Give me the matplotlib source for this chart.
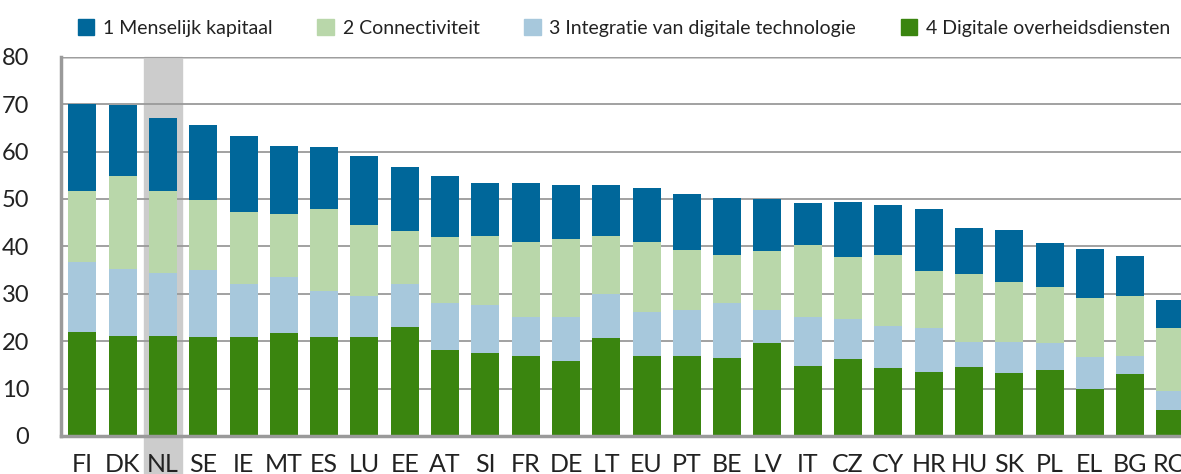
import numpy as np
import matplotlib.pyplot as plt
from matplotlib.patches import Patch

plt.rcParams['font.family'] = ['Lato', 'DejaVu Sans']

landen = ['FI', 'DK', 'NL', 'SE', 'IE', 'MT', 'ES', 'LU', 'EE', 'AT', 'SI', 'FR', 'DE', 'LT',
          'EU', 'PT', 'BE', 'LV', 'IT', 'CZ', 'CY', 'HR', 'HU', 'SK', 'PL', 'EL', 'BG', 'RO']

# scores per dimensie (gestapeld, van onder naar boven: 4, 3, 2, 1)
overheid = [21.9, 21.1, 21.1, 20.9, 20.9, 21.7, 20.9, 20.9, 23.0, 18.1, 17.5, 16.9, 15.8, 20.7,
            16.9, 16.9, 16.5, 19.6, 14.8, 16.2, 14.3, 13.5, 14.6, 13.3, 13.9, 9.9, 13.1, 5.5]
integratie = [14.9, 14.1, 13.3, 14.2, 11.1, 11.8, 9.7, 8.6, 9.0, 9.9, 10.1, 8.2, 9.3, 9.3,
              9.3, 9.6, 11.6, 6.9, 10.3, 8.5, 9.0, 9.3, 5.3, 6.6, 5.7, 6.8, 3.7, 4.0]
connectiviteit = [14.9, 19.6, 17.3, 14.7, 15.2, 13.3, 17.3, 15.0, 11.3, 14.0, 14.6, 15.8, 16.5, 12.2,
                  14.7, 12.7, 10.1, 12.5, 15.2, 13.1, 14.9, 12.0, 14.3, 12.6, 11.8, 12.5, 12.8, 13.3]
kapitaal = [18.3, 15.0, 15.4, 15.8, 16.1, 14.4, 13.1, 14.6, 13.4, 12.8, 11.2, 12.5, 11.3, 10.7,
            11.4, 11.8, 11.9, 11.0, 8.8, 11.6, 10.5, 13.1, 9.7, 10.9, 9.3, 10.2, 8.4, 5.9]

reeksen = ['1 Menselijk kapitaal', '2 Connectiviteit',
           '3 Integratie van digitale technologie', '4 Digitale overheidsdiensten']
kleuren = ['#00679a', '#b9d7aa', '#a7c8dc', '#3a850f']

fig = plt.figure(figsize=(11.81, 4.74), dpi=100)
ax = fig.add_axes([61 / 1181, 38 / 474, 1129.6 / 1181, 379.3 / 474])

x = np.arange(len(landen))
w = 0.695

# NL uitgelicht
nl = landen.index('NL')
ax.axvspan(nl - 0.475, nl + 0.475, ymin=-0.11, ymax=1.0, color='#cccccc', zorder=0, clip_on=False)

onder = np.zeros(len(landen))
for vals, kleur in [(overheid, kleuren[3]), (integratie, kleuren[2]),
                    (connectiviteit, kleuren[1]), (kapitaal, kleuren[0])]:
    ax.bar(x, vals, w, bottom=onder, color=kleur, zorder=3)
    onder += np.array(vals)

ax.set_xlim(-0.53, len(landen) - 0.5)
ax.set_ylim(0, 80)
ax.set_yticks(range(0, 81, 10))
ax.set_xticks(x)
ax.set_xticklabels(landen)
ax.tick_params(axis='x', length=0, pad=12, labelsize=18, colors='#222222')
ax.tick_params(axis='y', length=0, pad=23, labelsize=17, colors='#222222')

ax.grid(axis='y', color='#9a9a9a', lw=1.3, zorder=1)
for s in ['top', 'right']:
    ax.spines[s].set_visible(False)
ax.axhline(80, color='#c8c8c8', lw=2, zorder=1)
ax.spines['left'].set_color('#9a9a9a')
ax.spines['left'].set_linewidth(2.5)
ax.spines['bottom'].set_color('#9a9a9a')
ax.spines['bottom'].set_linewidth(2.5)
ax.spines['bottom'].set_zorder(4)

handles = [Patch(color=c) for c in kleuren]
fig.legend(handles, reeksen, loc='center', bbox_to_anchor=(624 / 1181, 1 - 28 / 474), ncol=4,
           frameon=False, fontsize=14, handlelength=0.85, handleheight=0.85, handletextpad=0.45,
           columnspacing=2.3, labelcolor='#222222')

fig.savefig('out.png', dpi=100)
